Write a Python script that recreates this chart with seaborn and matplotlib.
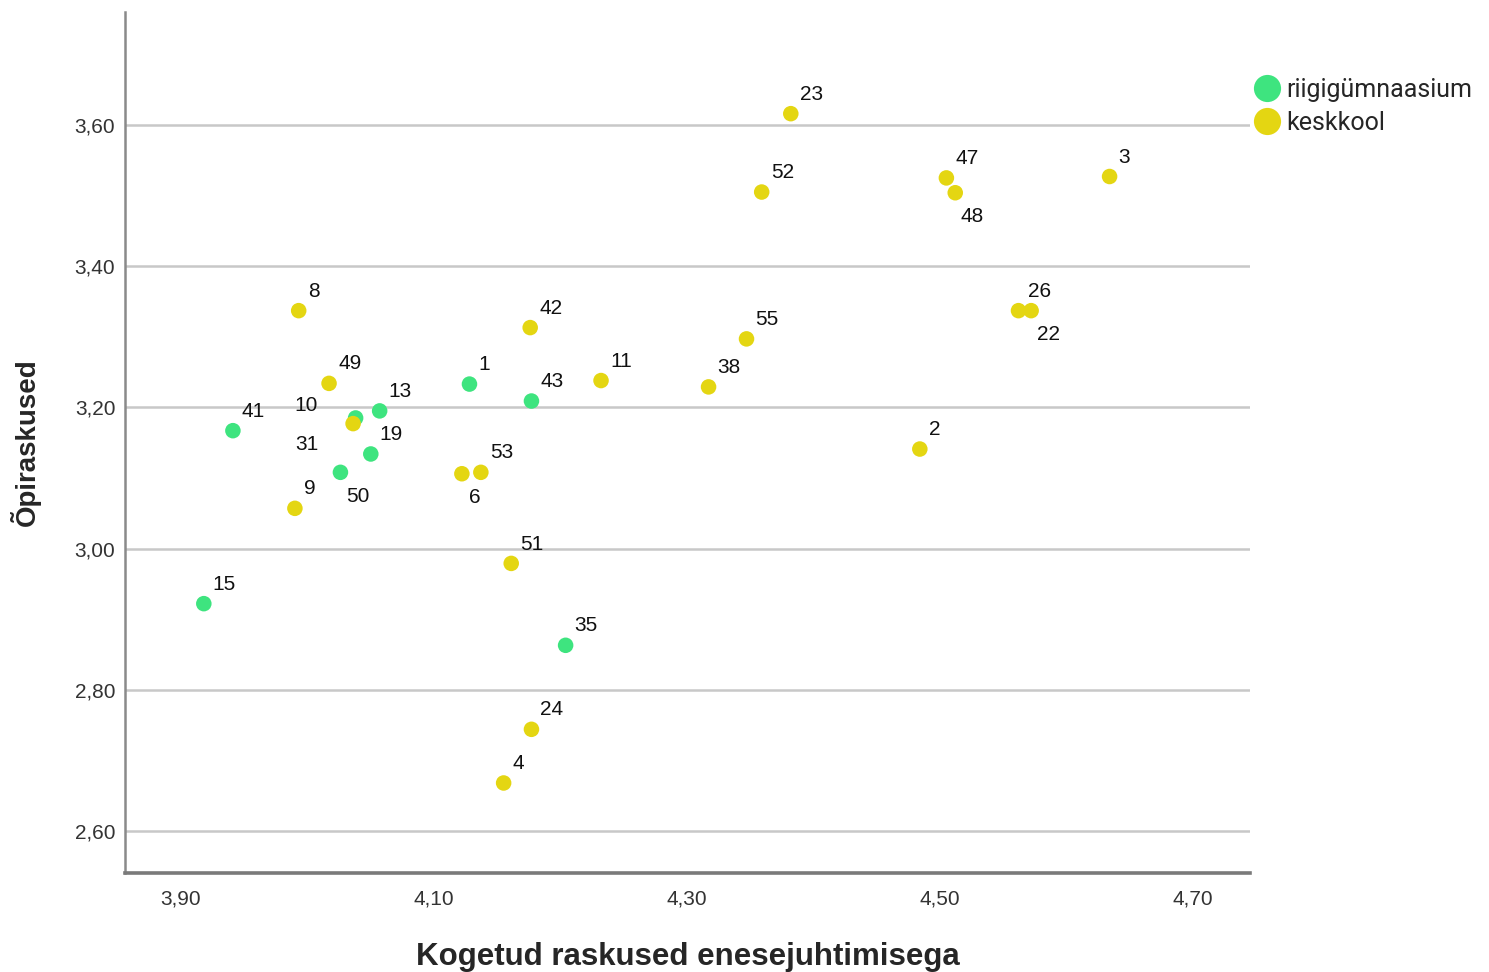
import matplotlib
matplotlib.use("Agg")
import matplotlib.pyplot as plt
import pandas as pd
import seaborn as sns

# andmed: õpilase nr, kool, Kogetud raskused (x), Õpiraskused (y)
ids = [1, 43, 41, 13, 10, 19, 50, 15, 35,
       8, 42, 49, 11, 31, 9, 6, 53, 51, 24, 4,
       23, 52, 47, 48, 3, 26, 22, 55, 38, 2]
kool = ["riigigümnaasium"] * 9 + ["keskkool"] * 21
x_vals = [4.128, 4.177, 3.941, 4.057, 4.038, 4.050, 4.026, 3.918, 4.204,
          3.993, 4.176, 4.017, 4.232, 4.036, 3.990, 4.122, 4.137, 4.161, 4.177, 4.155,
          4.382, 4.359, 4.505, 4.512, 4.634, 4.562, 4.572, 4.347, 4.317, 4.484]
y_vals = [3.233, 3.209, 3.167, 3.195, 3.185, 3.134, 3.108, 2.922, 2.863,
          3.337, 3.313, 3.234, 3.238, 3.177, 3.057, 3.106, 3.108, 2.979, 2.744, 2.668,
          3.616, 3.505, 3.525, 3.504, 3.527, 3.337, 3.337, 3.297, 3.229, 3.141]

x_ticks = [3.90, 4.10, 4.30, 4.50, 4.70]
y_ticks = [2.60, 2.80, 3.00, 3.20, 3.40, 3.60]
hue_order = ["riigigümnaasium", "keskkool"]
colors = ["#3ee47f", "#e4d612"]

df = pd.DataFrame({"nr": ids, "kool": kool, "x": x_vals, "y": y_vals})

sns.set_style("white")
plt.rcParams["font.family"] = ["Liberation Sans", "DejaVu Sans"]

fig = plt.figure(figsize=(14.89, 9.72), dpi=100)
ax = fig.add_axes([125 / 1489, 1 - 873 / 972, 1125 / 1489, 861 / 972])

sns.scatterplot(data=df, x="x", y="y", hue="kool", hue_order=hue_order,
                palette=colors, s=125, edgecolor="none", ax=ax, zorder=3)

# sildid punktide juures (vaikimisi üleval paremal)
offsets = {48: (3.6, -21), 22: (4.3, -21), 50: (4.3, -21.5), 6: (5, -21),
           10: (-27, 5), 31: (-25, -19)}
for nr, xv, yv in zip(ids, x_vals, y_vals):
    dx, dy = offsets.get(nr, (6.5, 10))
    ax.annotate(str(nr), (xv, yv), xytext=(dx, dy), textcoords="offset points",
                ha="right" if dx < 0 else "left", va="baseline",
                fontsize=15, color="#111111", zorder=4)

ax.set_xlim(3.8557, 4.745)
ax.set_ylim(2.5405, 3.760)
ax.set_xticks(x_ticks)
ax.set_xticklabels([f"{v:.2f}".replace(".", ",") for v in x_ticks])
ax.set_yticks(y_ticks)
ax.set_yticklabels([f"{v:.2f}".replace(".", ",") for v in y_ticks])
ax.tick_params(axis="x", length=0, pad=12, labelsize=15, labelcolor="#333333")
ax.tick_params(axis="y", length=0, pad=7, labelsize=15, labelcolor="#333333")

ax.yaxis.grid(True, color="#c8c8c8", linewidth=1.8)
ax.xaxis.grid(False)
ax.set_axisbelow(True)

for side in ["top", "right"]:
    ax.spines[side].set_visible(False)
ax.spines["left"].set_color("#8a8a8a")
ax.spines["left"].set_linewidth(1.8)
ax.spines["bottom"].set_color("#7a7a7a")
ax.spines["bottom"].set_linewidth(2.6)

ax.set_xlabel("Kogetud raskused enesejuhtimisega", fontsize=22.5, fontweight="bold",
              labelpad=24)
ax.set_ylabel("Õpiraskused", fontsize=20, fontweight="bold", labelpad=24)

handles, labels = ax.get_legend_handles_labels()
ax.legend(handles, labels, loc="upper left", bbox_to_anchor=(1254 / 1489, 1 - 78 / 972),
          bbox_transform=fig.transFigure, frameon=False, markerscale=1.75,
          handlelength=1.0, handletextpad=0.3, labelspacing=0.35, borderpad=0,
          borderaxespad=0, prop={"family": ["Roboto", "DejaVu Sans"], "size": 18})

fig.savefig("out.png", dpi=100, facecolor="white")
